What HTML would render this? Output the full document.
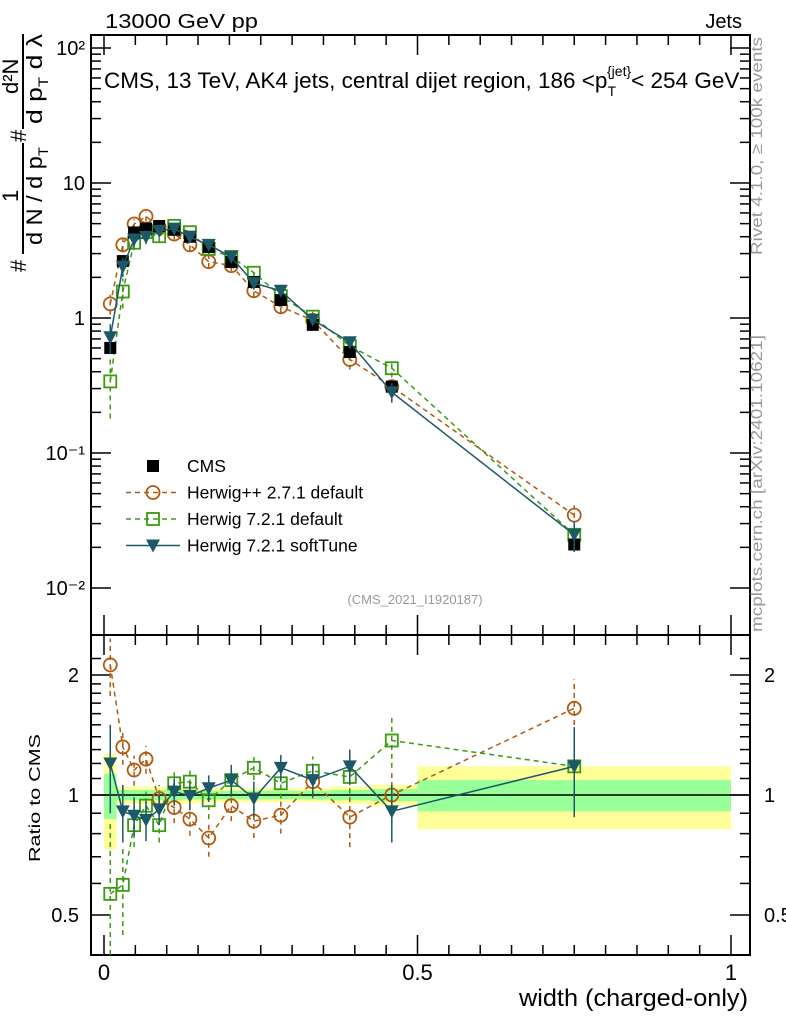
<!DOCTYPE html>
<html><head><meta charset="utf-8"><style>
body{margin:0;background:#fff;}
svg{display:block;font-family:"Liberation Sans",sans-serif;}
</style></head><body>
<svg id="chart" width="786" height="1024" viewBox="0 0 786 1024" xmlns="http://www.w3.org/2000/svg">
<g id="bands"></g>
<g id="grid"></g>
<g id="series"></g>
<text x="105" y="28" font-size="20" textLength="153" lengthAdjust="spacingAndGlyphs">13000 GeV pp</text>
<text x="742" y="28" font-size="20" text-anchor="end">Jets</text>
<text x="104" y="88" font-size="22.5">CMS, 13 TeV, AK4 jets, central dijet region, 186 &lt;p<tspan font-size="14" dy="8">T</tspan><tspan font-size="14" dy="-20" dx="-9">{jet}</tspan><tspan dy="12">&lt; 254 GeV</tspan></text>
<text x="415" y="604" font-size="13" fill="#999" text-anchor="middle">(CMS_2021_I1920187)</text>
<g transform="translate(26,272) rotate(-90)">
<text x="0" y="0" font-size="22">#</text>
<text x="70" y="-8" font-size="22">1</text>
<text x="27" y="16" font-size="22" textLength="98" lengthAdjust="spacingAndGlyphs">d N / d p<tspan font-size="14" dy="6">T</tspan></text>
<text x="130" y="0" font-size="22">#</text>
<text x="178" y="-8" font-size="22">d²N</text>
<text x="148" y="16" font-size="22" textLength="90" lengthAdjust="spacingAndGlyphs">d p<tspan font-size="14" dy="6">T</tspan><tspan dy="-6"> d λ</tspan></text>
<line x1="18" y1="-3" x2="129" y2="-3" stroke="#000" stroke-width="2"/>
<line x1="143" y1="-3" x2="238" y2="-3" stroke="#000" stroke-width="2"/></g>
<text transform="translate(40,798) rotate(-90)" font-size="16" text-anchor="middle" textLength="128" lengthAdjust="spacingAndGlyphs">Ratio to CMS</text>
<text x="748" y="1006" font-size="24" text-anchor="end" textLength="229" lengthAdjust="spacingAndGlyphs">width (charged-only)</text>
<text transform="translate(762,255) rotate(-90)" font-size="16" fill="#999" textLength="218" lengthAdjust="spacingAndGlyphs">Rivet 4.1.0, ≥ 100k events</text>
<text transform="translate(762,632) rotate(-90)" font-size="16" fill="#999" textLength="297" lengthAdjust="spacingAndGlyphs">mcplots.cern.ch [arXiv:2401.10621]</text>
<g id="legend"></g>
</svg>
<script>
const xEdges=[0,0.02,0.04,0.055,0.08,0.1,0.125,0.15,0.185,0.22,0.26,0.305,0.36,0.425,0.5,1.0];
const xCenters=[0.01,0.03,0.048,0.067,0.088,0.112,0.137,0.167,0.203,0.239,0.282,0.333,0.392,0.459,0.75];
const cmsValues=[0.6,2.64,4.3,4.6,4.8,4.5,4.0,3.35,2.6,1.85,1.36,0.89,0.56,0.31,0.021];
const bandYellow=[0.27,0.05,0.05,0.05,0.05,0.05,0.05,0.04,0.04,0.04,0.04,0.04,0.05,0.06,0.18];
const bandGreen=[0.13,0.03,0.03,0.03,0.03,0.03,0.025,0.025,0.025,0.025,0.025,0.025,0.03,0.035,0.09];
const herwigPPRatio=[2.12,1.32,1.155,1.23,0.98,0.93,0.87,0.78,0.94,0.86,0.89,1.08,0.88,1.0,1.65];
const herwigPPErr=[0.35,0.13,0.1,0.1,0.08,0.08,0.08,0.08,0.08,0.08,0.09,0.1,0.14,0.15,0.3];
const herwigDefRatio=[0.565,0.595,0.84,0.94,0.84,1.07,1.08,0.97,1.09,1.17,1.07,1.15,1.11,1.37,1.18];
const herwigDefErr=[0.3,0.15,0.1,0.08,0.08,0.07,0.07,0.1,0.08,0.08,0.09,0.1,0.1,0.2,0.3];
const softTuneRatio=[1.2,0.91,0.887,0.866,0.92,1.02,0.995,1.04,1.09,0.98,1.17,1.09,1.18,0.91,1.18];
const softTuneErr=[0.3,0.15,0.1,0.1,0.08,0.08,0.08,0.08,0.1,0.1,0.09,0.1,0.12,0.15,0.3];
const mainTicks=[0.01,0.1,1,10,100];
const mainTickLabels=["10⁻²","10⁻¹","1","10","10²"];
const ratioTicks=[0.5,1,2];
const ratioTickLabels=["0.5","1","2"];
const xTicks=[0,0.5,1];
const xTickLabels=["0","0.5","1"];

const NS="http://www.w3.org/2000/svg";
const L=91,R=750,T=35,MB=635,RB=955;
const X=v=>104+v*627;
const Y=v=>318-135*Math.log10(v);
const YR=v=>795-398.6*Math.log10(v);
function mk(tag,attrs,parent){const e=document.createElementNS(NS,tag);for(const k in attrs)e.setAttribute(k,attrs[k]);parent.appendChild(e);return e;}
const bands=document.getElementById('bands'),grid=document.getElementById('grid'),ser=document.getElementById('series');
xEdges.slice(0,-1).forEach((e,i)=>{
 const x1=X(e),x2=X(xEdges[i+1]);
 const y=mk('rect',{x:x1,y:YR(1+bandYellow[i]),width:x2-x1,height:YR(1-bandYellow[i])-YR(1+bandYellow[i]),fill:'#ffff99'},bands);
 
 
 const g=mk('rect',{x:x1,y:YR(1+bandGreen[i]),width:x2-x1,height:YR(1-bandGreen[i])-YR(1+bandGreen[i]),fill:'#99ff99'},bands);
 
 
});
const f1=mk('rect',{x:L,y:T,width:R-L,height:MB-T,fill:'none',stroke:'#000','stroke-width':2},grid);


const f2=mk('rect',{x:L,y:MB,width:R-L,height:RB-MB,fill:'none',stroke:'#000','stroke-width':2},grid);


mk('line',{x1:L,x2:R,y1:YR(1),y2:YR(1),stroke:'#000','stroke-width':1.5},grid);
for(let d=-2;d<=2;d++){for(let m=1;m<10;m++){const v=m*Math.pow(10,d);const y=Y(v);if(y<T||y>MB)continue;const len=m==1?20:10;mk('line',{x1:L,x2:L+len,y1:y,y2:y,stroke:'#000','stroke-width':1.5},grid);mk('line',{x1:R,x2:R-len,y1:y,y2:y,stroke:'#000','stroke-width':1.5},grid);}}
mainTicks.forEach((v,i)=>{const t=mk('text',{x:L-6,y:Y(v)+7,'font-size':20,'text-anchor':'end'},grid);t.textContent=mainTickLabels[i];

});
[0.5,0.6,0.7,0.8,0.9,1,1.1,1.2,1.3,1.4,1.5,1.6,1.7,1.8,1.9,2,2.2].forEach(v=>{const y=YR(v);if(y<MB||y>RB)return;const len=(v==0.5||v==1||v==2)?20:10;mk('line',{x1:L,x2:L+len,y1:y,y2:y,stroke:'#000','stroke-width':1.5},grid);mk('line',{x1:R,x2:R-len,y1:y,y2:y,stroke:'#000','stroke-width':1.5},grid);});
ratioTicks.forEach((v,i)=>{[L-12,R+14].forEach((x,j)=>{const t=mk('text',{x:x,y:YR(v)+7,'font-size':20,'text-anchor':j?'start':'end'},grid);t.textContent=ratioTickLabels[i];

});});
for(let k=0;k<=20;k++){const v=k*0.05;const x=X(v);const len=k%10==0?20:10;[[T,1],[MB,1],[MB,-1],[RB,-1]].forEach(([y0,s])=>mk('line',{x1:x,x2:x,y1:y0,y2:y0+s*len,stroke:'#000','stroke-width':1.5},grid));}
xTicks.forEach((v,i)=>{const t=mk('text',{x:X(v),y:980,'font-size':22,'text-anchor':'middle'},grid);t.textContent=xTickLabels[i];

});
function marker(kind,x,y,color,parent){
 if(kind=='sq')return mk('rect',{x:x-6,y:y-6,width:12,height:12,fill:'#000'},parent);
 if(kind=='circ')return mk('circle',{cx:x,cy:y,r:6.5,fill:'none',stroke:color,'stroke-width':1.8},parent);
 if(kind=='osq')return mk('rect',{x:x-6,y:y-6,width:12,height:12,fill:'none',stroke:color,'stroke-width':1.8},parent);
 return mk('path',{d:`M${x-7},${y-6}L${x+7},${y-6}L${x},${y+7}Z`,fill:color},parent);
}
function drawSeries(name,ratio,err,color,dash,kind){
 const g=mk('g',{},ser);
 
 
 const mainPts=ratio.map((r,i)=>[X(xCenters[i]),Y(r*cmsValues[i])]);
 const rPts=ratio.map((r,i)=>[X(xCenters[i]),YR(r)]);
 const clip=v=>Math.max(MB,Math.min(RB,v));
 mk('polyline',{points:mainPts.map(p=>p.join(',')).join(' '),fill:'none',stroke:color,'stroke-width':1.5,'stroke-dasharray':dash},g);
 mk('polyline',{points:rPts.map(p=>[p[0],clip(p[1])].join(',')).join(' '),fill:'none',stroke:color,'stroke-width':1.5,'stroke-dasharray':dash},g);
 ratio.forEach((r,i)=>{
  const x=X(xCenters[i]);const v=r*cmsValues[i];
  const lo=Math.max(r-err[i],0.3),hi=r+err[i];
  mk('line',{x1:x,x2:x,y1:Y(lo/r*v),y2:Y(hi/r*v),stroke:color,'stroke-width':1.5,'stroke-dasharray':dash},g);
  mk('line',{x1:x,x2:x,y1:clip(YR(lo)),y2:clip(YR(hi)),stroke:color,'stroke-width':1.5,'stroke-dasharray':dash},g);
  const m1=marker(kind,x,Y(v),color,g);
  
  
  const yr=YR(r);
  if(yr>=MB&&yr<=RB){const m2=marker(kind,x,yr,color,g);
  
  }
 });
}
drawSeries('herwigpp-271-default',herwigPPRatio,herwigPPErr,'#b05a10','5,4','circ');
drawSeries('herwig-721-default',herwigDefRatio,herwigDefErr,'#3a9a10','5,4','osq');
cmsValues.forEach((v,i)=>{const m=marker('sq',X(xCenters[i]),Y(v),'#000',ser);

});
drawSeries('herwig-721-softtune',softTuneRatio,softTuneErr,'#1d5868','','tri');
const leg=document.getElementById('legend');
const items=[['CMS','#000','','sq'],['Herwig++ 2.7.1 default','#b05a10','5,4','circ'],['Herwig 7.2.1 default','#3a9a10','5,4','osq'],['Herwig 7.2.1 softTune','#1d5868','','tri']];
items.forEach((it,i)=>{const y=466+i*26.5;const g=mk('g',{},leg);
 
 
 if(i>0)mk('line',{x1:126,x2:180,y1:y,y2:y,stroke:it[1],'stroke-width':1.5,'stroke-dasharray':it[2]},g);
 marker(it[3],153,y,it[1],g);
 const t=mk('text',{x:187,y:y+6,'font-size':17.5},g);t.textContent=it[0];});
</script>
</body></html>
